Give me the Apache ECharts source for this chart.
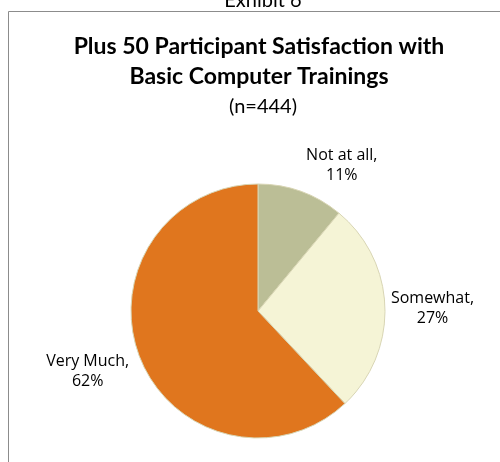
<!DOCTYPE html>
<html>
<head>
<meta charset="utf-8">
<script src="https://cdn.jsdelivr.net/npm/echarts@6/dist/echarts.min.js"></script>
<style>
  html, body { margin: 0; padding: 0; background: #fff; }
  #chart { width: 500px; height: 462px; }
</style>
</head>
<body>
<div id="chart"></div>
<script>
// answer categories and shares (percent)
var categories = ['Not at all', 'Somewhat', 'Very Much'];
var shares = [11, 27, 62];
var sliceColors = ['#BBBE96', '#F5F4D6', '#E0761E'];
// small nudges for the outside labels, same order as categories
var labelShift = [[-6, -9], [-17, 2], [11, 7]];

var chart = echarts.init(document.getElementById('chart'), null, { renderer: 'canvas' });

var pieData = categories.map(function (name, i) {
  return { name: name, value: shares[i], itemStyle: { color: sliceColors[i] } };
});

var option = {
  animation: false,
  title: [{
    text: 'Plus 50 Participant Satisfaction with\nBasic Computer Trainings',
    left: 254,
    top: 27,
    textAlign: 'center',
    textStyle: { fontSize: 23, fontWeight: 'bold', color: '#000', lineHeight: 30, fontFamily: 'Lato, sans-serif' }
  }, {
    text: '(n=444)',
    left: 258,
    top: 92,
    textAlign: 'center',
    textStyle: { fontSize: 20, fontWeight: 'normal', color: '#000', fontFamily: 'Lato, sans-serif' }
  }, {
    text: 'Exhibit 6',
    left: 258,
    top: -14,
    textAlign: 'center',
    textStyle: { fontSize: 20, fontWeight: 'normal', color: '#000', fontFamily: 'Lato, sans-serif' }
  }],
  graphic: [{
    type: 'polyline',
    shape: { points: [[8.5, 462], [8.5, 11.5], [500, 11.5]] },
    style: { stroke: '#8c8c8c', lineWidth: 1, fill: null }
  }],
  series: [{
    type: 'pie',
    center: [258, 311],
    radius: 127,
    startAngle: 90,
    clockwise: true,
    data: pieData,
    itemStyle: { borderColor: '#d8d5b4', borderWidth: 1 },
    label: {
      show: true,
      position: 'outside',
      formatter: '{b},\n{d}%',
      fontSize: 16,
      lineHeight: 20,
      color: '#000',
      overflow: 'none',
      fontFamily: '"Open Sans", sans-serif'
    },
    labelLine: { show: false, length: 18, length2: 0 },
    labelLayout: function (p) {
      var r = p.labelRect;
      var s = labelShift[p.dataIndex];
      return {
        x: r.x + r.width / 2 + s[0],
        y: r.y + r.height / 2 + s[1],
        align: 'center',
        verticalAlign: 'middle'
      };
    },
    emphasis: { disabled: true }
  }]
};

chart.setOption(option);
</script>
</body>
</html>
